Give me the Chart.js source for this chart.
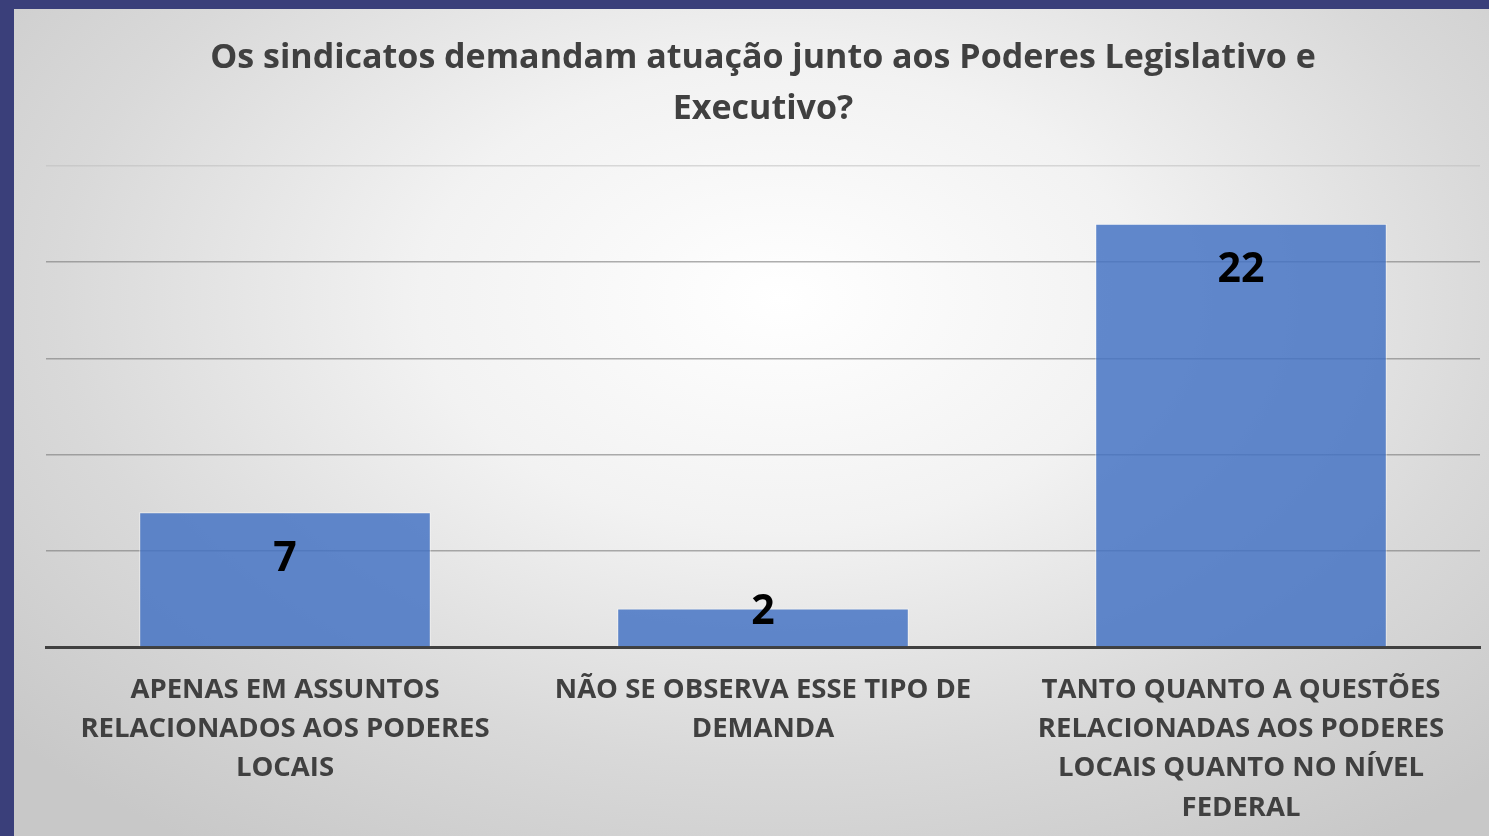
<!DOCTYPE html>
<html>
<head>
<meta charset="utf-8">
<script src="https://cdn.jsdelivr.net/npm/chart.js@4.4.1/dist/chart.umd.min.js"></script>
<style>
  html, body { margin: 0; padding: 0; }
  body { width: 1489px; height: 836px; background: #3a3f7a; position: relative; overflow: hidden; }
  #panel {
    position: absolute; left: 14px; top: 9px; right: 0; bottom: 0;
    background: radial-gradient(ellipse 70% 80% at 52% 35%, #ffffff 0%, #f2f2f2 35%, #d9d9d9 70%, #c8c8c8 100%);
  }
  #chart { position: absolute; left: 0; top: 0; }
</style>
</head>
<body>
<div id="panel"></div>
<canvas id="chart" width="1489" height="836"></canvas>
<script>
// categorias e valores
const categories = [
  ['APENAS EM ASSUNTOS', 'RELACIONADOS AOS PODERES', 'LOCAIS'],
  ['NÃO SE OBSERVA ESSE TIPO DE', 'DEMANDA'],
  ['TANTO QUANTO A QUESTÕES', 'RELACIONADAS AOS PODERES', 'LOCAIS QUANTO NO NÍVEL', 'FEDERAL']
];
const values = [7, 2, 22];
const yTicks = [0, 5, 10, 15, 20, 25];
const titleLines = ['Os sindicatos demandam atuação junto aos Poderes Legislativo e', 'Executivo?'];

const FONT = "'Open Sans', 'Noto Sans', sans-serif";

// rótulos de dados dentro da barra
const valueLabels = {
  id: 'valueLabels',
  afterDatasetsDraw(chart) {
    const ctx = chart.ctx;
    const meta = chart.getDatasetMeta(0);
    ctx.save();
    ctx.font = 'bold 41px ' + FONT;
    ctx.fillStyle = '#000000';
    ctx.textAlign = 'center';
    ctx.textBaseline = 'middle';
    meta.data.forEach((bar, i) => {
      const h = bar.base - bar.y;
      const y = h > 80 ? bar.y + 47 : bar.y + 4;
      ctx.fillText(String(values[i]), bar.x, y);
    });
    ctx.restore();
  }
};

new Chart(document.getElementById('chart'), {
  type: 'bar',
  data: {
    labels: categories,
    datasets: [{
      data: values,
      backgroundColor: 'rgba(68, 114, 196, 0.84)',
      borderColor: 'rgba(255, 255, 255, 0.55)',
      borderWidth: 1,
      categoryPercentage: 0.61,
      barPercentage: 1.0
    }]
  },
  options: {
    responsive: false,
    animation: false,
    devicePixelRatio: 1,
    layout: { padding: { left: 46, right: 9, top: 0, bottom: 0 } },
    plugins: {
      legend: { display: false },
      tooltip: { enabled: false },
      title: {
        display: true,
        text: titleLines,
        color: '#404040',
        font: { family: FONT, size: 34, weight: 'bold', lineHeight: 1.5 },
        padding: { top: 33, bottom: 31 }
      }
    },
    scales: {
      x: {
        grid: { display: false, drawTicks: false },
        border: { display: true, color: '#404040', width: 3 },
        ticks: {
          color: '#404040',
          font: { family: FONT, size: 27.5, weight: 'bold', lineHeight: 1.42 },
          padding: 24,
          maxRotation: 0,
          autoSkip: false
        },
        afterFit(scale) { scale.height = 189; }
      },
      y: {
        min: yTicks[0],
        max: yTicks[yTicks.length - 1],
        afterBuildTicks(scale) { scale.ticks = yTicks.map(v => ({ value: v })); },
        ticks: { display: false },
        grid: {
          drawTicks: false,
          color: ctx => ctx.tick && ctx.tick.value === yTicks[yTicks.length - 1] ? 'rgba(190,190,190,0.55)' : 'rgba(120,120,120,0.6)',
          lineWidth: 1.5
        },
        border: { display: false },
        afterFit(scale) { scale.width = 0; }
      }
    }
  },
  plugins: [valueLabels]
});
</script>
</body>
</html>
